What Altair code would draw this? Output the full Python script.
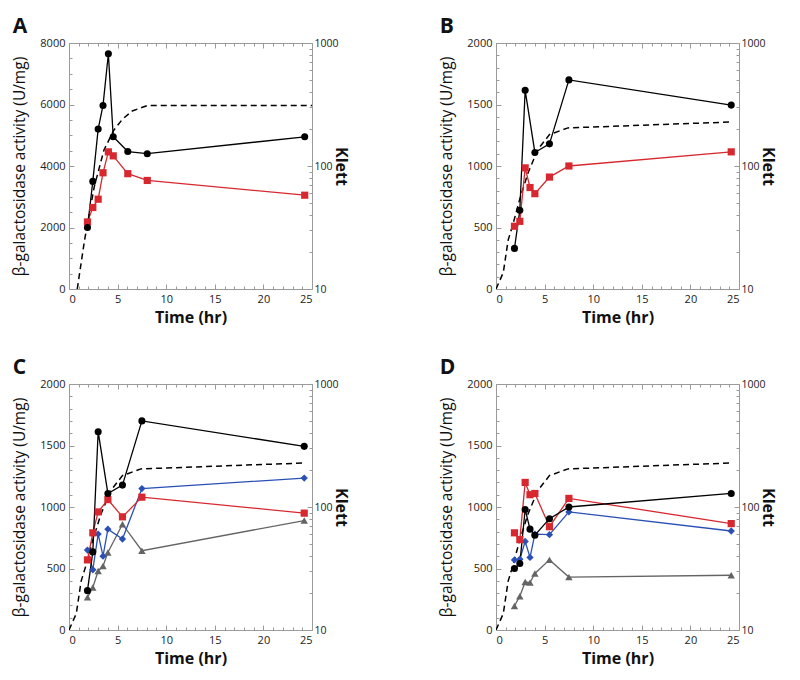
import altair as alt
import pandas as pd

# ---------------- data ----------------
names = ["grey", "blue", "red", "black"]
colors = ["#646464", "#2b50b5", "#d7282f", "#000000"]
shapes = ["triangle-up", "diamond", "square", "circle"]
sizes = [55, 50, 85, 100]

time_A = [1.9, 2.45, 3.0, 3.5, 4.05, 4.55, 6.05, 8.05, 24.25]
A_black = [2000, 3500, 5200, 5970, 7650, 4950, 4470, 4400, 4950]
A_red = [2180, 2650, 2920, 3780, 4460, 4330, 3750, 3530, 3050]
klett_time_A = [0.85, 1.6, 2.6, 3.6, 4.6, 5.5, 6.5, 8.05, 25.0]
klett_A = [10, 25, 68, 135, 195, 240, 280, 310, 310]

time_BCD = [1.9, 2.45, 3.0, 3.5, 4.0, 5.5, 7.5, 24.2]
B_black = [330, 640, 1615, None, 1110, 1180, 1700, 1495]
B_red = [510, 550, 985, 825, 775, 910, 1000, 1115]
C_black = [320, 635, 1612, None, 1110, 1178, 1700, 1493]
C_red = [570, 790, 960, None, 1060, 920, 1080, 950]
C_blue = [650, 490, 780, 600, 820, 740, 1150, 1235]
C_grey = [265, 345, 480, 520, 630, 860, 645, 890]
D_black = [500, 540, 980, 820, 770, 905, 1000, 1110]
D_red = [790, 735, 1200, 1100, 1110, 840, 1070, 865]
D_blue = [570, 575, 720, 590, 780, 775, 960, 805]
D_grey = [195, 275, 390, 385, 460, 570, 430, 445]
klett_time_BCD = [0.0, 0.75, 1.25, 1.7, 2.45, 3.3, 4.3, 5.5, 7.4, 24.2]
klett_BCD = [10, 13.6, 25, 32.6, 54, 88, 136, 180, 204, 228]

klett_ticks = [10, 20, 30, 40, 50, 60, 70, 80, 90, 100, 200, 300, 400, 500,
               600, 700, 800, 900, 1000]
time_ticks = list(range(0, 26))

FONT = "Open Sans"
AX = "#9a9a9a"


def tick_size(test):
    return {"condition": {"test": test, "value": -5}, "value": -3}


def panel(letter, times, series, kt, kv, ymax, minor, major):
    rows = []
    for name, vals in series:
        for t, v in zip(times, vals):
            if v is not None:
                rows.append({"t": t, "v": v, "s": name})
    df = pd.DataFrame(rows)
    dk = pd.DataFrame({"t": kt, "k": kv})

    xscale = alt.Scale(domain=[0, 25], nice=False, zero=False)
    xt = "datum.value % 5 === 0"
    x_bottom = alt.X("t:Q", scale=xscale, axis=alt.Axis(
        orient="bottom", values=time_ticks, format="d",
        labelExpr=f"{xt} ? datum.label : ''", tickSize=tick_size(xt),
        labelPadding=9, title="Time (hr)", titleFontWeight="bold",
        titleFontSize=16, titlePadding=5))
    x_top = alt.X("t:Q", scale=xscale, axis=alt.Axis(
        orient="top", values=time_ticks, labels=False,
        tickSize=tick_size(xt), title=None))
    yt = f"datum.value % {major} === 0"
    y_left = alt.Y("v:Q", scale=alt.Scale(domain=[0, ymax], nice=False),
                   axis=alt.Axis(orient="left", format="d",
                                 values=list(range(0, ymax + 1, minor)),
                                 labelExpr=f"{yt} ? datum.label : ''",
                                 tickSize=tick_size(yt), labelPadding=9,
                                 title="β-galactosidase activity (U/mg)",
                                 titleFontWeight="normal", titleFontSize=15.5,
                                 titlePadding=12))
    color = alt.Color("s:N", scale=alt.Scale(domain=names, range=colors),
                      legend=None)
    shape = alt.Shape("s:N", scale=alt.Scale(domain=names, range=shapes),
                      legend=None)
    size = alt.Size("s:N", scale=alt.Scale(domain=names, range=sizes),
                    legend=None)

    lines = alt.Chart(df).mark_line(strokeWidth=1.3).encode(
        x=x_top, y=y_left, color=color)
    points = alt.Chart(df).mark_point(filled=True, opacity=1).encode(
        x=x_bottom, y=y_left, color=color, shape=shape, size=size)
    kl_major = "datum.value === 10 || datum.value === 100 || datum.value === 1000"
    klett = alt.Chart(dk).mark_line(strokeDash=[6, 4], color="black",
                                    strokeWidth=1.5, clip=True).encode(
        x=alt.X("t:Q", scale=xscale, axis=None),
        y=alt.Y("k:Q", scale=alt.Scale(type="log", domain=[10, 1000],
                                       nice=False),
                axis=alt.Axis(orient="right", values=klett_ticks, format="d",
                              labelExpr=f"{kl_major} ? datum.label : ''",
                              tickSize=tick_size(kl_major), labelPadding=7,
                              labelFontSize=10.5,
                              title="Klett", titleFontWeight="bold",
                              titleFontSize=16, titlePadding=-6)))
    return alt.layer(klett, alt.layer(lines, points)).resolve_scale(
        y="independent").properties(
        width=243, height=246,
        title=alt.TitleParams(letter, anchor="start", frame="bounds",
                              fontSize=21, fontWeight="bold", font=FONT,
                              offset=0))


pA = panel("A", time_A, [("red", A_red), ("black", A_black)],
           klett_time_A, klett_A, 8000, 500, 2000)
pB = panel("B", time_BCD, [("red", B_red), ("black", B_black)],
           klett_time_BCD, klett_BCD, 2000, 100, 500)
pC = panel("C", time_BCD, [("grey", C_grey), ("blue", C_blue),
                           ("red", C_red), ("black", C_black)],
           klett_time_BCD, klett_BCD, 2000, 100, 500)
pD = panel("D", time_BCD, [("grey", D_grey), ("blue", D_blue),
                           ("red", D_red), ("black", D_black)],
           klett_time_BCD, klett_BCD, 2000, 100, 500)

chart = alt.vconcat(
    alt.hconcat(pA, pB, spacing=90),
    alt.hconcat(pC, pD, spacing=90),
    spacing=32,
).properties(
    padding={"left": 4, "top": 8, "right": 4, "bottom": 3}
).configure_view(stroke=None).configure_axis(
    labelFont=FONT, titleFont=FONT, labelFontSize=11, labelColor="#222",
    domainColor=AX, tickColor=AX, domainWidth=1, tickWidth=1, grid=False,
    titleColor="#111"
).configure_title(font=FONT, color="#111")

chart.save("out.html", embed_options={"renderer": "svg", "actions": False})
